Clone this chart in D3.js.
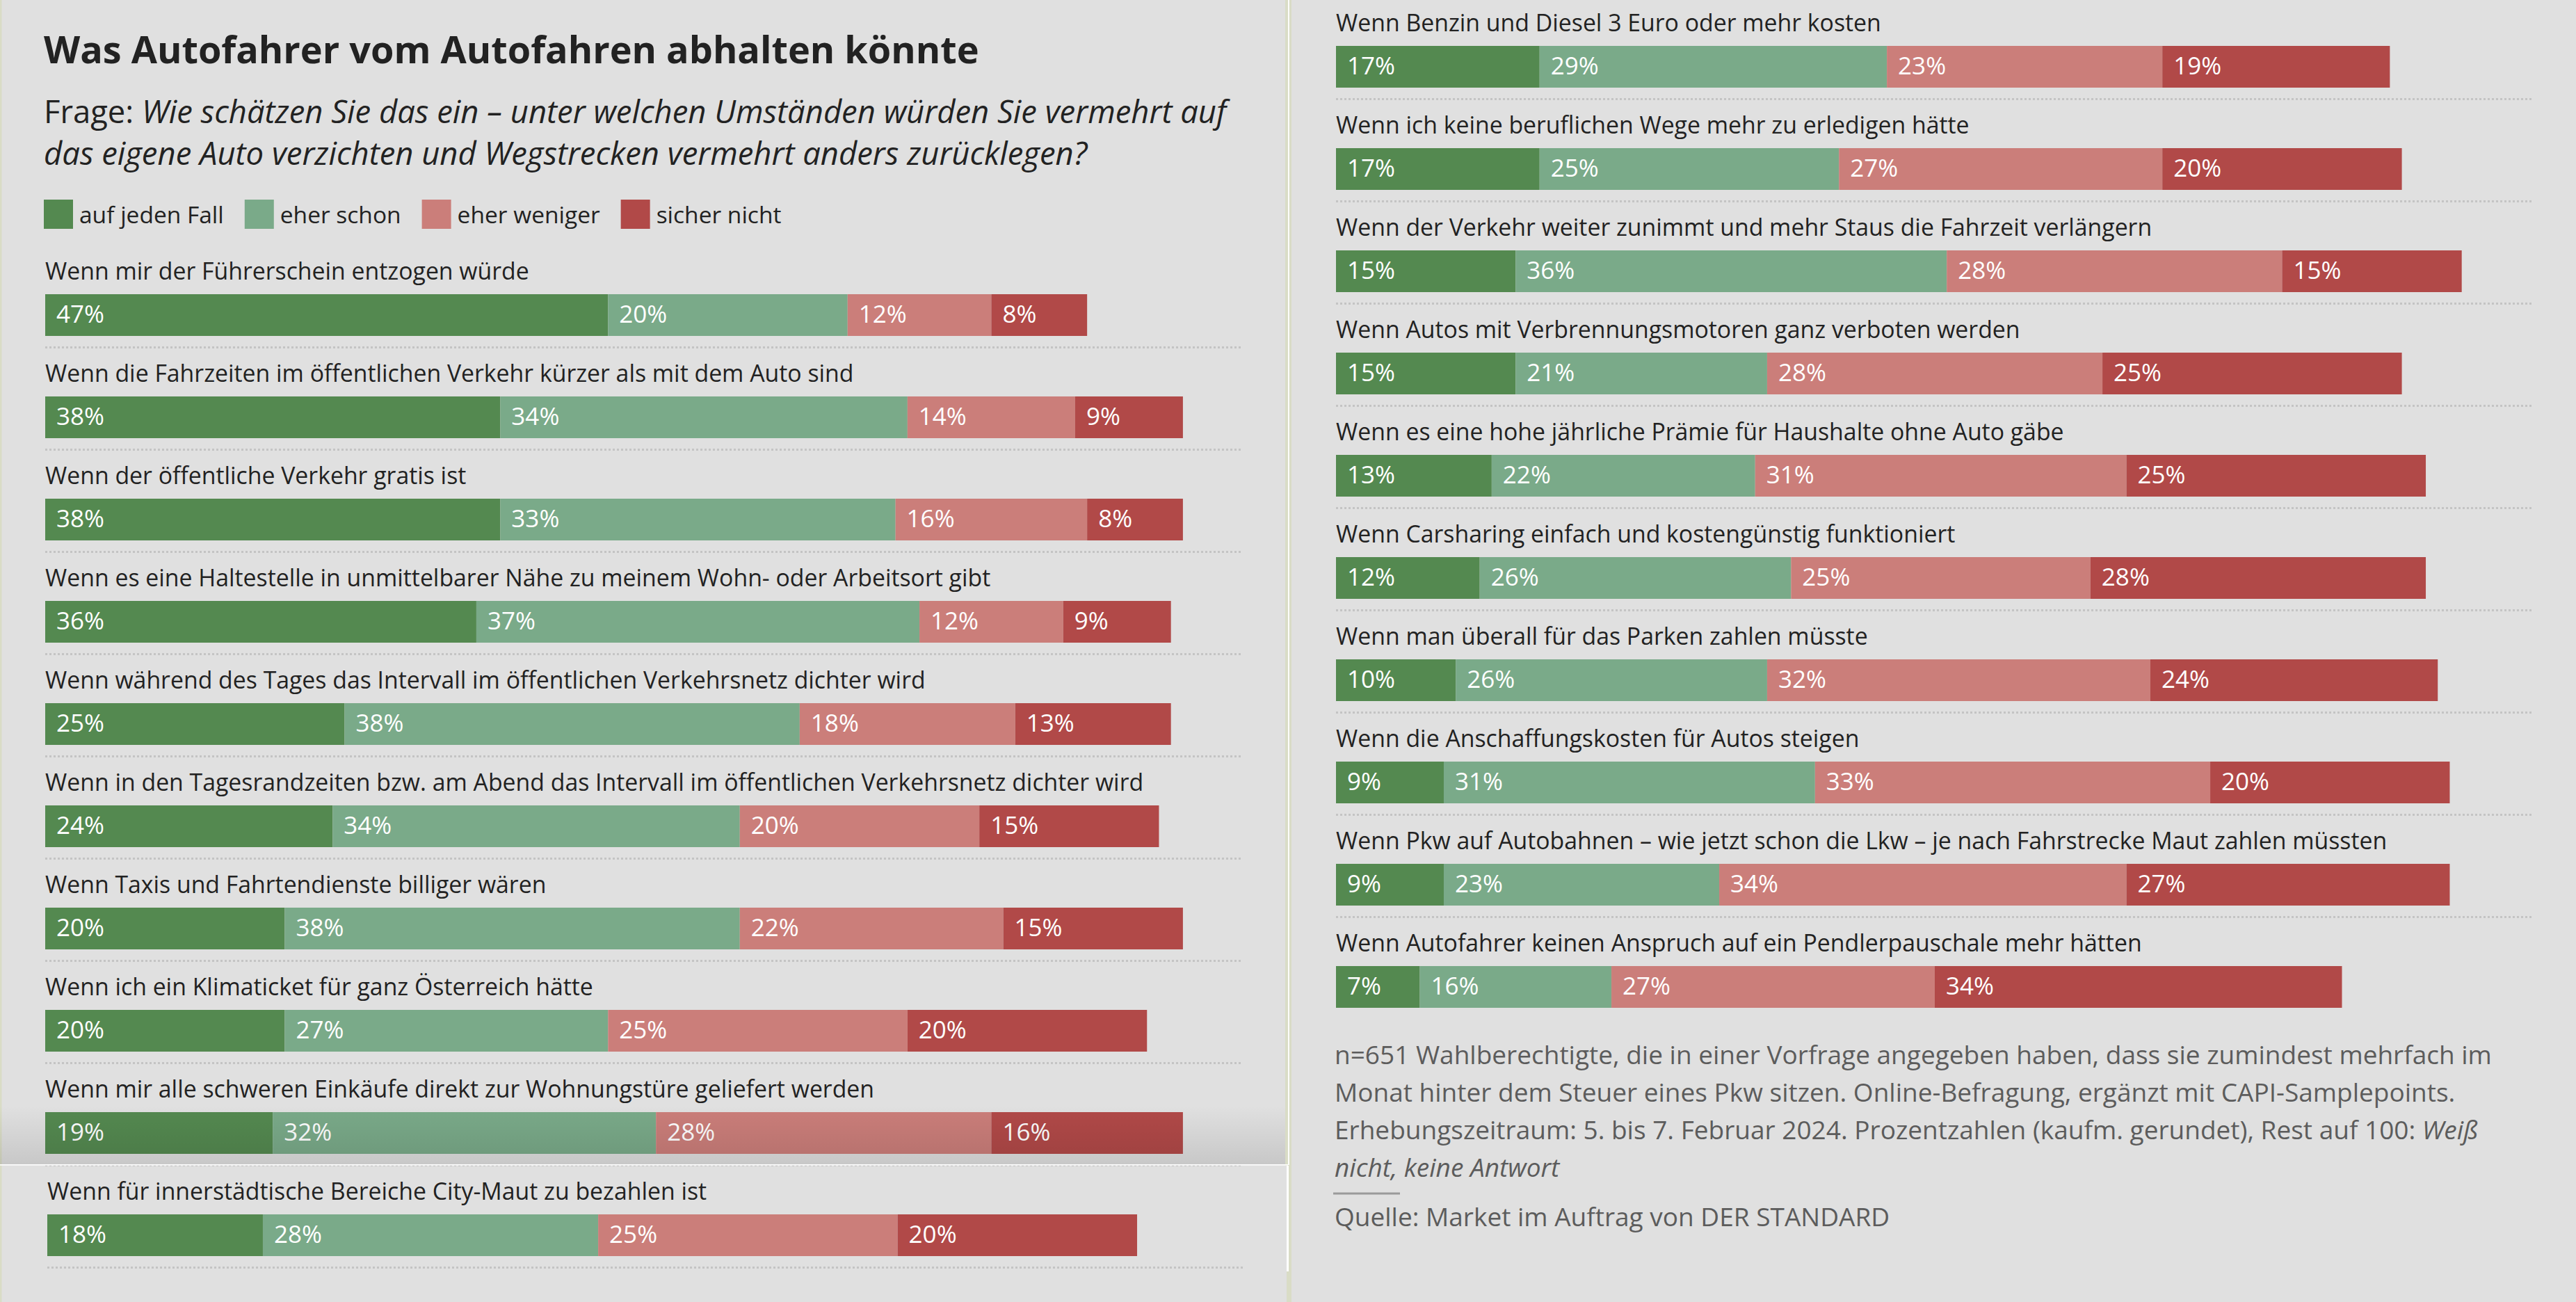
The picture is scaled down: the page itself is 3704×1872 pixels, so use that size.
<!DOCTYPE html>
<html>
<head>
<meta charset="utf-8">
<script src="https://cdn.jsdelivr.net/npm/d3@7"></script>
<style>
  html, body { margin: 0; padding: 0; background: #e0e0e0; }
  svg { display: block; font-family: "Open Sans", sans-serif; }
</style>
</head>
<body>
<script>
// Antwortkategorien (Legende)
const categories = ["auf jeden Fall", "eher schon", "eher weniger", "sicher nicht"]
const colors = ["#548950", "#7aaa89", "#cb7e7a", "#b14948"]

// linke Spalte
const leftQuestions = [
  "Wenn mir der Führerschein entzogen würde",
  "Wenn die Fahrzeiten im öffentlichen Verkehr kürzer als mit dem Auto sind",
  "Wenn der öffentliche Verkehr gratis ist",
  "Wenn es eine Haltestelle in unmittelbarer Nähe zu meinem Wohn- oder Arbeitsort gibt",
  "Wenn während des Tages das Intervall im öffentlichen Verkehrsnetz dichter wird",
  "Wenn in den Tagesrandzeiten bzw. am Abend das Intervall im öffentlichen Verkehrsnetz dichter wird",
  "Wenn Taxis und Fahrtendienste billiger wären",
  "Wenn ich ein Klimaticket für ganz Österreich hätte",
  "Wenn mir alle schweren Einkäufe direkt zur Wohnungstüre geliefert werden",
  "Wenn für innerstädtische Bereiche City-Maut zu bezahlen ist"
]
const leftValues = [
  [47, 20, 12, 8],
  [38, 34, 14, 9],
  [38, 33, 16, 8],
  [36, 37, 12, 9],
  [25, 38, 18, 13],
  [24, 34, 20, 15],
  [20, 38, 22, 15],
  [20, 27, 25, 20],
  [19, 32, 28, 16],
  [18, 28, 25, 20]
]

// rechte Spalte
const rightQuestions = [
  "Wenn Benzin und Diesel 3 Euro oder mehr kosten",
  "Wenn ich keine beruflichen Wege mehr zu erledigen hätte",
  "Wenn der Verkehr weiter zunimmt und mehr Staus die Fahrzeit verlängern",
  "Wenn Autos mit Verbrennungsmotoren ganz verboten werden",
  "Wenn es eine hohe jährliche Prämie für Haushalte ohne Auto gäbe",
  "Wenn Carsharing einfach und kostengünstig funktioniert",
  "Wenn man überall für das Parken zahlen müsste",
  "Wenn die Anschaffungskosten für Autos steigen",
  "Wenn Pkw auf Autobahnen – wie jetzt schon die Lkw – je nach Fahrstrecke Maut zahlen müssten",
  "Wenn Autofahrer keinen Anspruch auf ein Pendlerpauschale mehr hätten"
]
const rightValues = [
  [17, 29, 23, 19],
  [17, 25, 27, 20],
  [15, 36, 28, 15],
  [15, 21, 28, 25],
  [13, 22, 31, 25],
  [12, 26, 25, 28],
  [10, 26, 32, 24],
  [9, 31, 33, 20],
  [9, 23, 34, 27],
  [7, 16, 27, 34]
]

const title = "Was Autofahrer vom Autofahren abhalten könnte"
const questionLines = [
  [["Frage: ", false], ["Wie schätzen Sie das ein – unter welchen Umständen würden Sie vermehrt auf", true]],
  [["das eigene Auto verzichten und Wegstrecken vermehrt anders zurücklegen?", true]]
]
const noteLines = [
  [["n=651 Wahlberechtigte, die in einer Vorfrage angegeben haben, dass sie zumindest mehrfach im", false]],
  [["Monat hinter dem Steuer eines Pkw sitzen. Online-Befragung, ergänzt mit CAPI-Samplepoints.", false]],
  [["Erhebungszeitraum: 5. bis 7. Februar 2024. Prozentzahlen (kaufm. gerundet), Rest auf 100: ", false], ["Weiß", true]],
  [["nicht, keine Antwort", true]]
]
const source = "Quelle: Market im Auftrag von DER STANDARD"

const width = 3704
const height = 1872

const svg = d3.select("body").append("svg")
  .attr("width", width)
  .attr("height", height)

const defs = svg.append("defs")
const shade = defs.append("linearGradient")
  .attr("id", "shade")
  .attr("x1", 0).attr("x2", 0).attr("y1", 0).attr("y2", 1)
shade.append("stop").attr("offset", "0%").attr("stop-color", "#000").attr("stop-opacity", 0)
shade.append("stop").attr("offset", "100%").attr("stop-color", "#000").attr("stop-opacity", 0.11)

// Hintergrund und Ränder der beiden Spalten
svg.append("rect").attr("width", width).attr("height", height).attr("fill", "#e0e0e0")
svg.append("rect").attr("x", 0).attr("width", 2.5).attr("height", height).attr("fill", "#d9dcc6")
svg.append("rect").attr("x", 1848).attr("width", 9).attr("height", height).attr("fill", "#d9dcc6")
svg.append("rect").attr("x", 1852).attr("width", 1.8).attr("height", 1675).attr("fill", "#fff")

// Kopf
svg.append("text")
  .attr("x", 63).attr("y", 91)
  .attr("font-size", 54).attr("font-weight", 700).attr("fill", "#222")
  .text(title)

function richText(sel, lines, { x, y, lineHeight, size, fill }) {
  lines.forEach((parts, i) => {
    const t = sel.append("text")
      .attr("x", x).attr("y", y + i * lineHeight)
      .attr("font-size", size).attr("fill", fill)
    parts.forEach(([s, italic]) => {
      t.append("tspan")
        .attr("font-style", italic ? "italic" : "normal")
        .text(s)
    })
  })
}

richText(svg, questionLines, { x: 63, y: 177, lineHeight: 60, size: 45.4, fill: "#222" })

// Legende
const legend = svg.append("g").attr("transform", "translate(63, 287)")
let lx = 0
categories.forEach((c, i) => {
  const item = legend.append("g").attr("transform", `translate(${lx}, 0)`)
  item.append("rect").attr("width", 42).attr("height", 42).attr("fill", colors[i])
  const t = item.append("text")
    .attr("x", 51).attr("y", 34)
    .attr("font-size", 33.5).attr("fill", "#222")
    .text(c)
  lx += 51 + t.node().getComputedTextLength() + 30
})

const x = d3.scaleLinear().domain([0, 100]).range([0, 1722])

function drawPanel(g, questions, values, { top, lastRule }) {
  const y = d3.scaleBand()
    .domain(d3.range(questions.length))
    .range([top, top + (questions.length - 1) * 147 + 60])
    .paddingInner(87 / 147)
    .paddingOuter(0)

  const rows = g.selectAll("g.row")
    .data(questions.map((q, i) => ({ q, i, v: values[i] })))
    .join("g")
    .attr("class", "row")
    .attr("transform", d => `translate(0, ${y(d.i)})`)

  rows.append("text")
    .attr("y", -21)
    .attr("font-size", 33.8).attr("fill", "#222")
    .text(d => d.q)

  const segs = rows.selectAll("g.seg")
    .data(d => {
      let acc = 0
      return d.v.map((v, k) => {
        const s = { v, k, start: acc }
        acc += v
        return s
      })
    })
    .join("g")
    .attr("class", "seg")

  segs.append("rect")
    .attr("x", s => x(s.start))
    .attr("width", s => x(s.v))
    .attr("height", y.bandwidth())
    .attr("fill", s => colors[s.k])

  segs.append("text")
    .attr("x", s => x(s.start) + 16)
    .attr("y", 41)
    .attr("font-size", 35).attr("fill", "#fff")
    .text(s => `${s.v}%`)

  rows.filter(d => lastRule || d.i < questions.length - 1)
    .append("line")
    .attr("x1", 0).attr("x2", x(100))
    .attr("y1", 76.5).attr("y2", 76.5)
    .attr("stroke", "#c4c4c4")
    .attr("stroke-width", 3)
    .attr("stroke-dasharray", "3 3")

  return rows
}

const left = svg.append("g").attr("transform", "translate(65, 0)")
const leftRows = drawPanel(left, leftQuestions, leftValues, { top: 423, lastRule: true })

// Nahtstelle zwischen den beiden Bildausschnitten links
svg.append("rect")
  .attr("x", 0).attr("y", 1590).attr("width", 1848).attr("height", 85)
  .attr("fill", "url(#shade)")
svg.append("rect")
  .attr("x", 0).attr("y", 1674).attr("width", 1852).attr("height", 1.6)
  .attr("fill", "#fff")
svg.append("rect")
  .attr("x", 1848).attr("y", 1676).attr("width", 2).attr("height", height - 1676)
  .attr("fill", "#e0e0e0")
svg.append("rect")
  .attr("x", 1850).attr("y", 1676).attr("width", 3).attr("height", 152)
  .attr("fill", "#fff")
leftRows.filter(d => d.i === leftQuestions.length - 1)
  .raise()
  .attr("transform", function() {
    return d3.select(this).attr("transform").replace("translate(0,", "translate(3,")
  })

const right = svg.append("g").attr("transform", "translate(1921, 0)")
drawPanel(right, rightQuestions, rightValues, { top: 66, lastRule: false })

// Fußnote
richText(svg, noteLines, { x: 1919, y: 1529.5, lineHeight: 54, size: 37, fill: "#5c5c5c" })
svg.append("rect")
  .attr("x", 1917).attr("y", 1714.5).attr("width", 96).attr("height", 3)
  .attr("fill", "#9a9a9a")
svg.append("text")
  .attr("x", 1919).attr("y", 1763)
  .attr("font-size", 37).attr("fill", "#5c5c5c")
  .text(source)
</script>
</body>
</html>
